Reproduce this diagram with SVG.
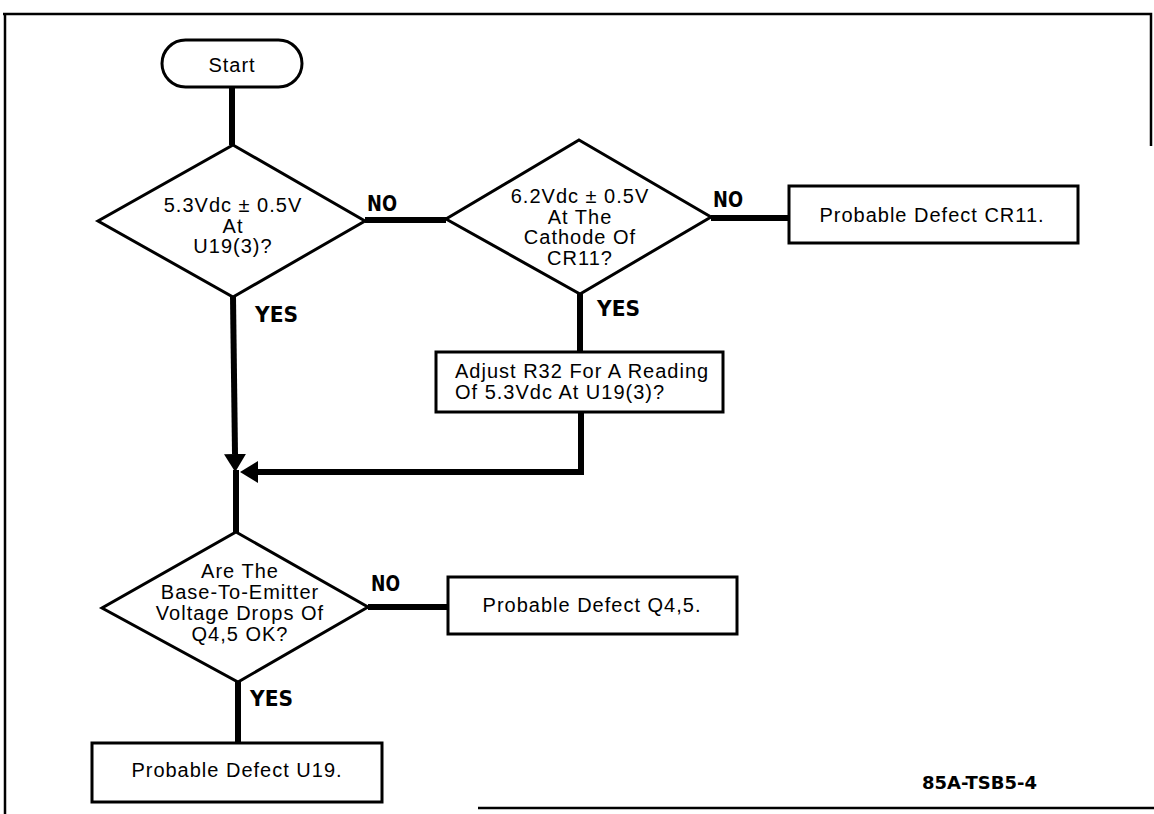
<svg xmlns="http://www.w3.org/2000/svg" width="1154" height="814" viewBox="0 0 1154 814">
<style>
.shape{fill:#fff;stroke:#000;stroke-width:3;stroke-linejoin:miter}
.conn{fill:none;stroke:#000;stroke-width:6;stroke-linejoin:miter}
.frame{fill:none;stroke:#000;stroke-width:2.5}
.t{font-family:"Liberation Sans",Arial,Helvetica,sans-serif;font-size:20px;letter-spacing:1px;fill:#000}
.c{text-anchor:middle}
.lbl{font-family:"Liberation Sans Narrow","DejaVu Sans Condensed","Liberation Sans",Arial,sans-serif;font-weight:bold;font-size:22px;fill:#000}
</style>
<defs>
<marker id="arrow" markerUnits="userSpaceOnUse" markerWidth="24" markerHeight="26" viewBox="0 -13 24 26" refX="0" refY="0" orient="auto">
<path d="M0,-11 L18,0 L0,11 z" fill="#000"/>
</marker>
</defs>
<rect width="1154" height="814" fill="#fff"/>
<g id="frame">
<path class="frame" d="M3,14 H1151 V146"/>
<path class="frame" d="M5,14 V814"/>
<path class="frame" d="M478,808 H1154"/>
</g>
<g id="connectors">
<path class="conn" d="M232,87 V145"/>
<path class="conn" d="M233,297 L235,454" marker-end="url(#arrow)"/>
<path class="conn" d="M236,470 V532"/>
<path class="conn" d="M365,220 H446"/>
<path class="conn" d="M711,218 H790"/>
<path class="conn" d="M580,294 V352"/>
<path class="conn" d="M581,412 V472 H258" marker-end="url(#arrow)"/>
<path class="conn" d="M368,607 H448"/>
<path class="conn" d="M238,682 V743"/>
</g>
<g id="start">
<rect class="shape" x="162" y="40" width="140" height="47" rx="23.5" ry="23.5"/>
<text class="t c" x="232" y="72">Start</text>
</g>
<g id="decision1">
<polygon class="shape" points="233,145 365,221 233,297 98,221"/>
<text class="t c" x="233" y="212">5.3Vdc ± 0.5V</text>
<text class="t c" x="233" y="233">At</text>
<text class="t c" x="233" y="253">U19(3)?</text>
</g>
<g id="decision2">
<polygon class="shape" points="579,140 711,217 580,294 446,219"/>
<text class="t c" x="580" y="203">6.2Vdc ± 0.5V</text>
<text class="t c" x="580" y="224">At The</text>
<text class="t c" x="580" y="244">Cathode Of</text>
<text class="t c" x="580" y="265">CR11?</text>
</g>
<g id="defectCR11">
<rect class="shape" x="789" y="186" width="289" height="57"/>
<text class="t c" x="932" y="222">Probable Defect CR11.</text>
</g>
<g id="adjust">
<rect class="shape" x="436" y="352" width="287" height="60"/>
<text class="t" x="455" y="378">Adjust R32 For A Reading</text>
<text class="t" x="455" y="399">Of 5.3Vdc At U19(3)?</text>
</g>
<g id="decision3">
<polygon class="shape" points="236,532 368,607 238,682 102,608"/>
<text class="t c" x="240" y="578">Are The</text>
<text class="t c" x="240" y="599">Base-To-Emitter</text>
<text class="t c" x="240" y="620">Voltage Drops Of</text>
<text class="t c" x="240" y="641">Q4,5 OK?</text>
</g>
<g id="defectQ45">
<rect class="shape" x="448" y="577" width="289" height="57"/>
<text class="t c" x="592" y="612">Probable Defect Q4,5.</text>
</g>
<g id="defectU19">
<rect class="shape" x="92" y="743" width="290" height="59"/>
<text class="t c" x="237" y="777">Probable Defect U19.</text>
</g>
<g id="labels">
<text class="lbl" x="367" y="211" textLength="30" lengthAdjust="spacingAndGlyphs">NO</text>
<text class="lbl" x="713" y="207" textLength="30" lengthAdjust="spacingAndGlyphs">NO</text>
<text class="lbl" x="255" y="322" textLength="43" lengthAdjust="spacingAndGlyphs">YES</text>
<text class="lbl" x="597" y="316" textLength="43" lengthAdjust="spacingAndGlyphs">YES</text>
<text class="lbl" x="371" y="591" textLength="29" lengthAdjust="spacingAndGlyphs">NO</text>
<text class="lbl" x="250" y="706" textLength="43" lengthAdjust="spacingAndGlyphs">YES</text>
<text class="lbl" x="922" y="789" style="font-size:18px" textLength="115" lengthAdjust="spacingAndGlyphs">85A-TSB5-4</text>
</g>
</svg>
